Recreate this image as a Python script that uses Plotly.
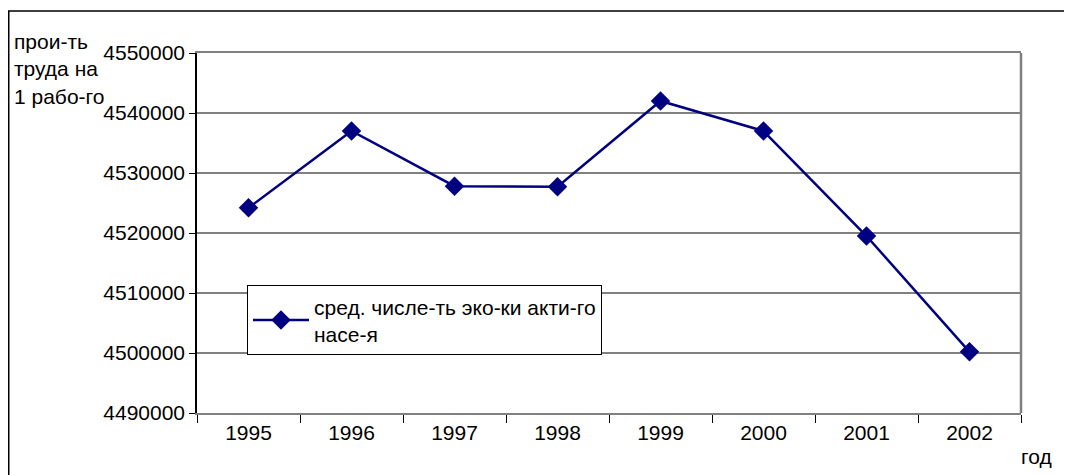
import plotly.graph_objects as go

years = ["1995", "1996", "1997", "1998", "1999", "2000", "2001", "2002"]
values = [4524200, 4537000, 4527800, 4527700, 4542000, 4537000, 4519500, 4500200]
series_name = "сред. числе-ть эко-ки акти-го<br>насе-я"
y_title = "прои-ть<br>труда на<br>1 рабо-го"
x_title = "год"
y_ticks = [4490000, 4500000, 4510000, 4520000, 4530000, 4540000, 4550000]

FONT = "Liberation Sans, Arial, sans-serif"
FS = 21

# page has an 8px body margin; figure sized to fit the window
W, H = 1064, 467
L, T = 189, 45
PW, PH = 824, 359.7
R = W - L - PW
B = H - T - PH

fig = go.Figure()
fig.add_trace(go.Scatter(
    x=years, y=values, mode="lines+markers", name=series_name,
    line=dict(color="#000080", width=2.5),
    marker=dict(symbol="diamond", size=15, color="#000080"),
))

fig.update_layout(
    width=W, height=H,
    margin=dict(l=L, r=R, t=T, b=B, autoexpand=False),
    paper_bgcolor="white", plot_bgcolor="white",
    font=dict(family=FONT, size=FS, color="black"),
    showlegend=True,
    legend=dict(
        x=(239 - L) / PW, y=1 - (277 - T) / PH, xanchor="left", yanchor="top",
        bgcolor="white", bordercolor="black", borderwidth=1,
        font=dict(family=FONT, size=FS, color="black"),
        itemwidth=56, tracegroupgap=0,
    ),
    xaxis=dict(
        type="category", range=[-0.5, 7.5],
        showgrid=False, showline=True, linecolor="#808080", linewidth=2, mirror=True,
        ticks="outside", tickson="boundaries", ticklen=8, tickcolor="black", tickwidth=1,
        tickfont=dict(family=FONT, size=FS, color="black"),
        zeroline=False,
    ),
    yaxis=dict(
        range=[4490000, 4550000], tickvals=y_ticks, tickformat="d",
        showgrid=True, gridcolor="#808080", gridwidth=1.5,
        showline=True, linecolor="black", linewidth=1.5,
        ticks="outside", ticklen=6, tickcolor="black",
        tickfont=dict(family=FONT, size=FS, color="black"),
        zeroline=False,
    ),
    shapes=[
        dict(type="line", xref="paper", yref="paper", x0=1, x1=1, y0=0, y1=1,
             line=dict(color="#808080", width=2.5)),
        dict(type="rect", xref="paper", yref="paper",
             x0=(0.75 - L) / PW, x1=1.2, y0=-0.3, y1=1 + (T - 3) / PH,
             line=dict(color="black", width=1.5), fillcolor="rgba(0,0,0,0)", layer="below"),
    ],
    annotations=[
        dict(text=y_title, xref="paper", yref="paper",
             x=(4 - L) / PW, y=1 + (T - 20) / PH, xanchor="left", yanchor="top",
             align="left", showarrow=False, font=dict(family=FONT, size=FS, color="black")),
        dict(text=x_title, xref="paper", yref="paper",
             x=(1011 - L) / PW, y=-(448 - (T + PH)) / PH, xanchor="left", yanchor="middle",
             align="left", showarrow=False, font=dict(family=FONT, size=FS, color="black")),
    ],
)

fig.write_html("out.html")
